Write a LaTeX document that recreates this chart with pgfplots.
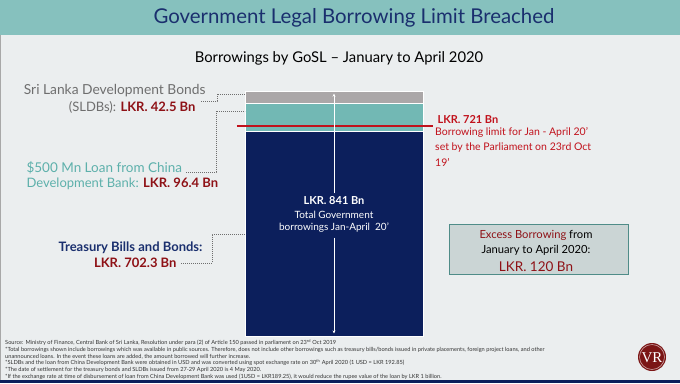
\documentclass[border=0pt]{standalone}
\usepackage{pgfplots}
\pgfplotsset{compat=1.18}
\usepackage{fontspec}
\setmainfont{Lato}
\newfontfamily\logofont{Liberation Serif}
\usetikzlibrary{arrows.meta}
\definecolor{bg}{HTML}{EBEEEF}
\definecolor{header}{HTML}{86C1BE}
\definecolor{titlecol}{HTML}{1A2F6E}
\definecolor{navybar}{HTML}{0C1F5C}
\definecolor{tealbar}{HTML}{72B8B4}
\definecolor{graybar}{HTML}{ABA7A8}
\definecolor{darkred}{HTML}{8E1116}
\definecolor{limitred}{HTML}{C1121C}
\definecolor{tealtext}{HTML}{5DB0AB}
\definecolor{graytext}{HTML}{6E6E6E}
\definecolor{boxfill}{HTML}{CBD5D5}
\definecolor{boxborder}{HTML}{4F8C88}
\definecolor{logored}{HTML}{7B1515}
\begin{document}
\begin{tikzpicture}[x=1pt,y=1pt]
\useasboundingbox (0,0) rectangle (680,-383);
\fill[bg] (0,0) rectangle (680,-383);
\fill[header] (0,0) rectangle (680,-35);
\fill[navybar] (0,-380) rectangle (680,-383);
\draw[graytext!60, line width=1pt] (0.5,-35) -- (0.5,-380);
\node[titlecol, font=\fontsize{20.4}{23}\selectfont] at (354,-18) {Government Legal Borrowing Limit Breached};
\node[black, font=\fontsize{14.8}{17}\selectfont] at (339,-58) {Borrowings by GoSL -- January to April 2020};

\begin{axis}[at={(245pt,-336pt)}, anchor=south west, scale only axis,
  width=178pt, height=245pt, xmin=0, xmax=2, ymin=0, ymax=841.2,
  axis lines=none, ticks=none, ybar stacked, bar width=178pt, clip=false]
\addplot[fill=navybar, draw=white, line width=0.7pt] coordinates {(1,702.3)};
\addplot[fill=tealbar, draw=white, line width=0.7pt] coordinates {(1,96.4)};
\addplot[fill=graybar, draw=white, line width=0.7pt] coordinates {(1,42.5)};
\coordinate (LimL) at (axis cs:-0.09,721);
\coordinate (LimR) at (axis cs:2.11,721);
\coordinate (ArTopA) at (axis cs:1,490);
\coordinate (ArTopB) at (axis cs:1,832);
\coordinate (ArBotA) at (axis cs:1,338);
\coordinate (ArBotB) at (axis cs:1,9);
\end{axis}
\draw[limitred, line width=1.3pt] (LimL) -- (LimR);
\draw[white, line width=0.6pt, -{Stealth[length=3pt,width=3pt]}] (ArTopA) -- (ArTopB);
\draw[white, line width=0.6pt, -{Stealth[length=3pt,width=3pt]}] (ArBotA) -- (ArBotB);

% labels inside bar
\node[white, font=\fontsize{11}{13}\selectfont\bfseries] at (334,-201) {LKR. 841 Bn};
\node[white, font=\fontsize{10}{12}\selectfont] at (334,-215) {Total Government};
\node[white, font=\fontsize{10}{12}\selectfont] at (334,-228) {borrowings Jan-April\ \ 20'};

% left labels
\node[graytext, anchor=east, font=\fontsize{13.8}{15}\selectfont] at (209,-91) {Sri Lanka Development Bonds};
\node[anchor=east, font=\fontsize{13}{15}\selectfont] at (199,-107) {\textcolor{graytext}{(SLDBs):} \textcolor{darkred}{\bfseries LKR. 42.5 Bn}};
\draw[graytext, line width=0.8pt, dash pattern=on 0.8pt off 1.2pt] (201,-101) -- (217,-101) -- (217,-94) -- (245,-94);

\node[tealtext, anchor=west, font=\fontsize{13.5}{15}\selectfont] at (23,-168) {\$500 Mn Loan from China};
\node[anchor=west, font=\fontsize{13}{15}\selectfont] at (23,-184) {\textcolor{tealtext}{Development Bank:} \textcolor{darkred}{\bfseries LKR. 96.4 Bn}};
\draw[graytext, line width=0.8pt, dash pattern=on 0.8pt off 1.2pt] (186,-172) -- (216,-172) -- (216,-111) -- (245,-111);

\node[titlecol, anchor=east, font=\fontsize{13}{15}\selectfont\bfseries] at (206,-248) {Treasury Bills and Bonds:};
\node[darkred, anchor=east, font=\fontsize{13}{15}\selectfont\bfseries] at (180,-263) {LKR. 702.3 Bn};
\draw[graytext, line width=0.8pt, dash pattern=on 0.8pt off 1.2pt] (181,-263) -- (212,-263) -- (212,-234) -- (245,-234);

% limit label
\node[limitred, anchor=west, font=\fontsize{11}{13}\selectfont\bfseries] at (434,-120) {LKR. 721 Bn};
\node[limitred, anchor=north west, align=left, font=\fontsize{10.5}{15.5}\selectfont, inner sep=0pt] at (435,-127) {Borrowing limit for Jan - April 20'\\set by the Parliament on 23rd Oct\\19'};

% excess box
\draw[fill=boxfill, draw=boxborder, line width=1pt] (449,-224) rectangle (628,-274);
\node[font=\fontsize{11.2}{14}\selectfont] at (536,-235) {\textcolor{darkred}{Excess Borrowing} from};
\node[font=\fontsize{11.2}{14}\selectfont] at (536,-250) {January to April 2020:};
\node[darkred, font=\fontsize{13.5}{16}\selectfont] at (536,-267) {LKR. 120 Bn};

% footnotes
\node[anchor=north west, align=left, inner sep=0pt, text=black!80, font=\fontsize{5.65}{6.75}\selectfont] at (5,-339) {Source: Ministry of Finance, Central Bank of Sri Lanka, Resolution under para (2) of Article 150 passed in parliament on 23\textsuperscript{rd} Oct 2019\\
*Total borrowings shown include borrowings which was available in public sources. Therefore, does not include other borrowings such as treasury bills/bonds issued in private placements, foreign project loans, and other\\
unannounced loans. In the event these loans are added, the amount borrowed will further increase.\\
*SLDBs and the loan from China Development Bank were obtained in USD and was converted using spot exchange rate on 30\textsuperscript{th} April 2020 (1 USD = LKR 192.85)\\
*The date of settlement for the treasury bonds and SLDBs issued from 27-29 April 2020 is 4 May 2020.\\
*If the exchange rate at time of disbursement of loan from China Development Bank was used (1USD = LKR189.25), it would reduce the rupee value of the loan by LKR 1 billion.};

% logo
\fill[logored] (652,-357) circle (14);
\draw[white!60!logored, line width=0.6pt] (652,-357) circle (12.5);
\node[white, font=\fontsize{15}{15}\selectfont\logofont] at (652,-357.5) {VR};
\end{tikzpicture}
\end{document}
